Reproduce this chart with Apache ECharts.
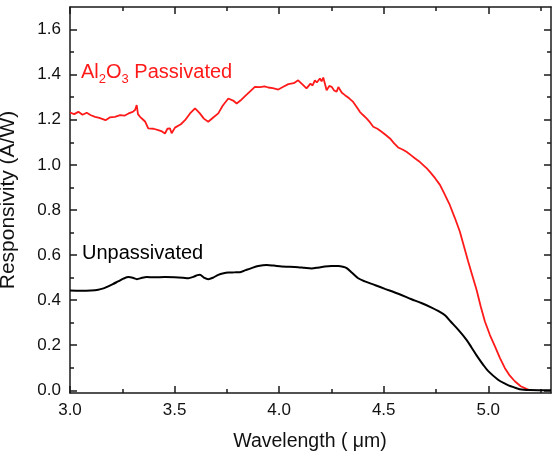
<!DOCTYPE html>
<html><head><meta charset="utf-8">
<script src="https://cdn.jsdelivr.net/npm/echarts@6/dist/echarts.min.js"></script>
<style>html,body{margin:0;padding:0;background:#fff}#c{width:558px;height:465px}</style>
</head><body><div id="c"></div>
<script>
// Data
const passWl = [3.00,3.02,3.04,3.06,3.08,3.10,3.12,3.14,3.17,3.19,3.215,3.24,3.26,3.28,3.30,3.311,3.319,3.325,3.335,3.35,3.36,3.374,3.40,3.422,3.44,3.454,3.466,3.478,3.486,3.494,3.502,3.51,3.53,3.55,3.574,3.598,3.621,3.64,3.661,3.685,3.709,3.73,3.757,3.78,3.797,3.815,3.837,3.86,3.884,3.91,3.93,3.948,3.97,3.996,4.02,4.044,4.07,4.091,4.11,4.131,4.15,4.16,4.171,4.18,4.195,4.203,4.211,4.219,4.227,4.24,4.251,4.263,4.275,4.283,4.291,4.30,4.315,4.335,4.354,4.37,4.386,4.40,4.418,4.435,4.45,4.47,4.49,4.51,4.53,4.55,4.569,4.59,4.609,4.63,4.649,4.67,4.689,4.705,4.721,4.745,4.769,4.79,4.816,4.84,4.864,4.884,4.904,4.924,4.944,4.964,4.984,5.008,5.032,5.055,5.079,5.103,5.127,5.155,5.183,5.20];
const passResp = [1.232,1.225,1.235,1.222,1.231,1.220,1.213,1.208,1.198,1.210,1.213,1.220,1.218,1.228,1.235,1.243,1.265,1.225,1.213,1.200,1.191,1.162,1.160,1.154,1.148,1.139,1.160,1.162,1.140,1.139,1.165,1.169,1.180,1.198,1.228,1.250,1.228,1.205,1.191,1.210,1.228,1.262,1.294,1.285,1.272,1.285,1.305,1.325,1.346,1.345,1.348,1.343,1.340,1.334,1.346,1.358,1.362,1.375,1.358,1.339,1.360,1.352,1.375,1.365,1.383,1.370,1.387,1.360,1.331,1.350,1.346,1.330,1.324,1.345,1.339,1.320,1.309,1.295,1.279,1.258,1.235,1.222,1.206,1.188,1.169,1.160,1.147,1.132,1.117,1.095,1.077,1.068,1.058,1.043,1.029,1.015,0.999,0.985,0.969,0.942,0.911,0.872,0.822,0.765,0.704,0.638,0.571,0.508,0.446,0.372,0.305,0.245,0.195,0.145,0.099,0.065,0.040,0.018,0.006,0.0];
const unpassWl = [3.00,3.05,3.10,3.135,3.16,3.18,3.205,3.23,3.255,3.28,3.30,3.32,3.345,3.367,3.40,3.454,3.50,3.54,3.566,3.59,3.61,3.621,3.64,3.661,3.685,3.709,3.735,3.757,3.785,3.813,3.84,3.868,3.90,3.94,3.975,4.012,4.05,4.091,4.12,4.155,4.19,4.219,4.25,4.283,4.305,4.323,4.35,4.378,4.41,4.46,4.506,4.57,4.633,4.68,4.729,4.76,4.793,4.82,4.856,4.896,4.92,4.944,4.976,5.00,5.047,5.08,5.111,5.15,5.20,5.30];
const unpassResp = [0.443,0.442,0.443,0.446,0.452,0.460,0.471,0.483,0.495,0.502,0.499,0.493,0.499,0.502,0.501,0.502,0.501,0.499,0.497,0.503,0.511,0.512,0.500,0.493,0.500,0.512,0.519,0.522,0.523,0.524,0.533,0.542,0.551,0.556,0.553,0.549,0.548,0.546,0.543,0.540,0.545,0.549,0.551,0.551,0.548,0.542,0.520,0.497,0.483,0.466,0.450,0.428,0.404,0.387,0.367,0.352,0.333,0.305,0.269,0.224,0.190,0.155,0.113,0.085,0.047,0.030,0.017,0.005,0.001,0.000];
const xMajorTicks = [3.0,3.5,4.0,4.5,5.0];
const xMinorTicks = [3.25,3.75,4.25,4.75,5.25];
const yMajorTicks = [0.0,0.2,0.4,0.6,0.8,1.0,1.2,1.4,1.6];
const yMinorTicks = [0.1,0.3,0.5,0.7,0.9,1.1,1.3,1.5];
const seriesNames = ['Al2O3 Passivated','Unpassivated'];

const FONT = '"Liberation Sans", Arial, sans-serif';
const lineStyle = {color:'#1a1a1a', width:1.5};
const XMIN = 3.0, XMAX = 5.3, YMIN = -0.012, YMAX = 1.7;
const gridRect = {left:70, right:7, top:7, bottom:72};

function xAx(gridIndex, pos, ticks, len, labels, showLine){
  return {type:'value', gridIndex, position:pos, min:XMIN, max:XMAX,
    axisLine:{show:showLine, onZero:false, lineStyle},
    axisTick:{show:true, inside:true, length:len, customValues:ticks, lineStyle},
    axisLabel:{show:labels, customValues:ticks, formatter:v=>v.toFixed(1), fontSize:17, color:'#111', fontFamily:FONT, margin:9},
    splitLine:{show:false}};
}
function yAx(gridIndex, pos, ticks, len, labels, showLine){
  return {type:'value', gridIndex, position:pos, min:YMIN, max:YMAX,
    axisLine:{show:showLine, onZero:false, lineStyle},
    axisTick:{show:true, inside:true, length:len, customValues:ticks, lineStyle},
    axisLabel:{show:labels, customValues:ticks, formatter:v=>v.toFixed(1), fontSize:17, color:'#111', fontFamily:FONT, margin:9},
    splitLine:{show:false}};
}

const chart = echarts.init(document.getElementById('c'), null, {renderer:'canvas'});
chart.setOption({
  animation:false,
  backgroundColor:'#fff',
  grid:[Object.assign({}, gridRect), Object.assign({}, gridRect)],
  xAxis:[
    xAx(0,'bottom',xMajorTicks,7,true,true),
    xAx(0,'top',xMajorTicks,7,false,true),
    xAx(1,'bottom',xMinorTicks,4,false,false),
    xAx(1,'top',xMinorTicks,4,false,false)
  ],
  yAxis:[
    yAx(0,'left',yMajorTicks,7,true,true),
    yAx(0,'right',yMajorTicks,7,false,true),
    yAx(1,'left',yMinorTicks,4,false,false),
    yAx(1,'right',yMinorTicks,4,false,false)
  ],
  series:[
    {name:seriesNames[0], type:'line', xAxisIndex:0, yAxisIndex:0, showSymbol:false,
      data:passWl.map((w,i)=>[w,passResp[i]]), lineStyle:{color:'#ff1a1a', width:1.8}, itemStyle:{color:'#ff1a1a'}},
    {name:seriesNames[1], type:'line', xAxisIndex:0, yAxisIndex:0, showSymbol:false, smooth:0.3,
      data:unpassWl.map((w,i)=>[w,unpassResp[i]]), lineStyle:{color:'#000', width:2}, itemStyle:{color:'#000'}}
  ],
  graphic:[
    {type:'text', left:81, top:62, style:{
      text:'{a|Al}{s|2}{a|O}{s|3}{a| Passivated}', fill:'#ff1a1a', font:'20px '+FONT,
      rich:{a:{fontSize:20, fontFamily:FONT, fill:'#ff1a1a', color:'#ff1a1a'}, s:{fontSize:13, fontFamily:FONT, color:'#ff1a1a', fill:'#ff1a1a', padding:[15,0,0,0]}}}},
    {type:'text', left:82, top:243, style:{text:'Unpassivated', fill:'#000', font:'20px '+FONT}},
    {type:'text', x:310, y:442, style:{text:'Wavelength ( μm)', fill:'#111', font:'19.5px '+FONT, align:'center', verticalAlign:'middle'}},
    {type:'text', x:8, y:200, rotation:Math.PI/2, style:{text:'Responsivity (A/W)', fill:'#111', font:'21px '+FONT, align:'center', verticalAlign:'middle'}}
  ]
});
</script></body></html>
